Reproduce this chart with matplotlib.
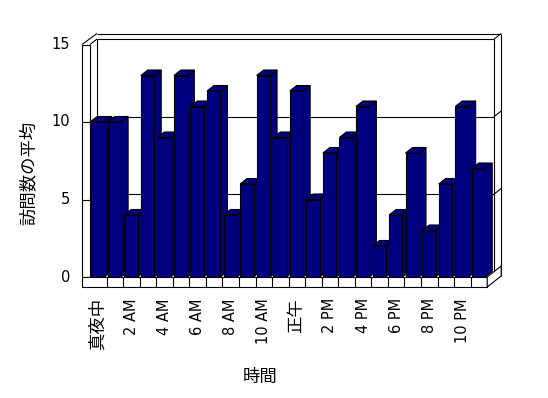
import matplotlib
matplotlib.use("Agg")
import matplotlib.pyplot as plt
from matplotlib.patches import Polygon, Rectangle

# ---- data ----
hours = list(range(24))
values = [10, 10, 4, 13, 9, 13, 11, 12, 4, 6, 13, 9, 12, 5, 8, 9, 11, 2, 4, 8, 3, 6, 11, 7]
tick_pos = [0, 2, 4, 6, 8, 10, 12, 14, 16, 18, 20, 22]
tick_labels = ["真夜中", "2 AM", "4 AM", "6 AM", "8 AM", "10 AM", "正午",
               "2 PM", "4 PM", "6 PM", "8 PM", "10 PM"]
y_ticks = [0, 5, 10, 15]
y_label = "訪問数の平均"
x_label = "時間"

# ---- style / geometry ----
W, H = 548, 398
NAVY = "#000080"
LW = 0.8
px_cat = 16.55
px_val = 15.5
x0_px, y0_px = 90, 277
n = len(hours)
ymax = 15
DX = 7 / px_cat      # depth offset in category units
DY = 5.5 / px_val    # depth offset in value units
LWALL = 8 / px_cat   # left wall thickness
FL = 10 / px_val     # floor thickness
BOFF, BW = 0.07, 0.81

fig = plt.figure(figsize=(W / 100, H / 100), dpi=100)
fig.patch.set_facecolor("white")
ax = fig.add_axes([x0_px / W, (H - y0_px) / H, n * px_cat / W, ymax * px_val / H])
ax.set_xlim(0, n)
ax.set_ylim(0, ymax)
ax.axis("off")

def line(xs, ys, z=1):
    ax.plot(xs, ys, color="black", lw=LW, zorder=z, clip_on=False, solid_capstyle="butt")

# back wall (inner face) and thickness
line([DX, n + DX], [ymax + DY, ymax + DY])
line([DX, DX], [DY, ymax + DY])
line([n + DX, n + DX], [DY, ymax + DY])
line([n + 2 * DX, n + 2 * DX], [2 * DY - FL, ymax + 2 * DY])
line([DX, n + 2 * DX], [ymax + 2 * DY, ymax + 2 * DY])
line([n + DX, n + 2 * DX], [ymax + DY, ymax + 2 * DY])
# left wall
line([-LWALL, DX], [ymax, ymax + 2 * DY])
line([0, DX], [ymax, ymax + DY])
line([0, 0], [0, ymax])
ax.add_patch(Rectangle((-LWALL, 0), LWALL, ymax, facecolor="white", edgecolor="black",
                       lw=LW, zorder=1, clip_on=False))
# gridlines
for v in y_ticks[1:-1]:
    line([DX, n + DX], [v + DY, v + DY])
    line([n + DX, n + 2 * DX], [v + DY, v + 2 * DY])
    line([0, DX], [v, v + DY])
    line([-LWALL, 0], [v, v], z=2)

# bars
bars = ax.bar([h + BOFF for h in hours], values, width=BW, align="edge",
              color=NAVY, edgecolor="black", linewidth=LW)
for k, (rect, v) in enumerate(zip(bars, values)):
    z = 3 + k * 0.01
    rect.set_zorder(z + 0.005)
    rect.set_clip_on(False)
    xa = hours[k] + BOFF
    xb = xa + BW
    side = Polygon([(xb, 0), (xb + DX, DY), (xb + DX, v + DY), (xb, v)], closed=True,
                   facecolor=NAVY, edgecolor="black", lw=LW, zorder=z, clip_on=False)
    top = Polygon([(xa, v), (xa + DX, v + DY), (xb + DX, v + DY), (xb, v)], closed=True,
                  facecolor=NAVY, edgecolor="black", lw=LW, zorder=z, clip_on=False)
    ax.add_patch(side)
    ax.add_patch(top)

# floor
ax.add_patch(Rectangle((-LWALL, -FL), n + LWALL, FL, facecolor="white", edgecolor="black",
                       lw=LW, zorder=5, clip_on=False))
ax.add_patch(Polygon([(n, 0), (n, -FL), (n + 2 * DX, -FL + 2 * DY), (n + 2 * DX, 2 * DY)],
                     closed=True, facecolor="white", edgecolor="black", lw=LW, zorder=5,
                     clip_on=False))
for k in range(1, n):
    line([k, k], [-FL, 0], z=6)

# tick labels
for v in y_ticks:
    ax.text(-1.2, v, str(v), ha="right", va="center", fontsize=10.5,
            family="DejaVu Sans", zorder=7)
for p, lab in zip(tick_pos, tick_labels):
    if lab.isascii():
        ax.text(p + 0.5, -FL - 0.72, lab, rotation=90, ha="center", va="top",
                fontsize=10.5, family="DejaVu Sans")
    else:
        ax.text(p + 0.45, -FL - 0.72, lab, rotation=90, ha="center", va="top",
                fontsize=12.5, family=["Noto Sans CJK JP", "DejaVu Sans"])

fig.text(260 / W, 1 - 377 / H, x_label, ha="center", va="center", fontsize=12.5,
         family=["Noto Sans CJK JP", "DejaVu Sans"])
fig.text(29 / W, 1 - 173 / H, y_label, ha="center", va="center", rotation=90,
         fontsize=12.5, family=["Noto Sans CJK JP", "DejaVu Sans"])

fig.savefig("out.png", dpi=100, facecolor="white")
